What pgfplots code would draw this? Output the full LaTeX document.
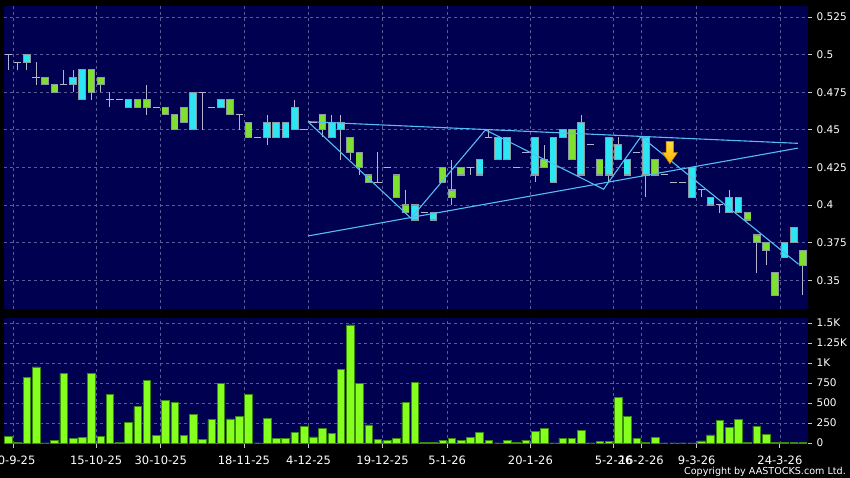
\documentclass[border=0pt]{standalone}
\usepackage{fontspec}
\setmainfont{DejaVu Sans}
\usepackage{pgfplots}
\pgfplotsset{compat=1.18}
\usepackage{pgfplotstable}

\definecolor{bgnavy}{HTML}{000050}
\definecolor{gridc}{HTML}{5A5A96}
\definecolor{cyanc}{HTML}{2CE6F4}
\definecolor{greenc}{HTML}{80E030}
\definecolor{boxb}{HTML}{8A9AA0}
\definecolor{wickc}{HTML}{B4B4C8}
\definecolor{volg}{HTML}{84FF1E}
\definecolor{volb}{HTML}{3A8A10}
\definecolor{trend}{HTML}{55BDF5}
\definecolor{tickc}{HTML}{C8C8C8}
\definecolor{arrowt}{HTML}{FFE040}
\definecolor{arrowf}{HTML}{FFB000}
\definecolor{arrowd}{HTML}{D08800}

\pgfplotstableread{
x lo hi
2 0.495 0.500
7 0.480 0.485
8 0.470 0.490
13 0.465 0.470
20 0.450 0.475
23 0.465 0.470
28 0.445 0.455
29 0.445 0.455
30 0.445 0.455
31 0.450 0.465
35 0.445 0.455
36 0.450 0.455
44 0.390 0.400
46 0.390 0.395
51 0.420 0.430
53 0.430 0.445
54 0.430 0.445
57 0.420 0.445
59 0.415 0.445
60 0.445 0.450
62 0.420 0.455
65 0.420 0.445
66 0.430 0.440
67 0.420 0.430
69 0.420 0.445
74 0.405 0.425
76 0.400 0.405
78 0.395 0.405
79 0.395 0.405
84 0.365 0.375
85 0.375 0.385
}\cyantab

\pgfplotstableread{
x lo hi
4 0.480 0.485
5 0.475 0.480
9 0.475 0.490
10 0.480 0.485
14 0.465 0.470
15 0.465 0.470
17 0.460 0.465
18 0.450 0.460
19 0.455 0.465
24 0.460 0.470
26 0.445 0.455
34 0.450 0.460
37 0.435 0.445
38 0.425 0.435
39 0.415 0.420
42 0.405 0.420
43 0.395 0.400
47 0.415 0.425
48 0.405 0.410
49 0.420 0.425
58 0.425 0.430
61 0.430 0.450
64 0.420 0.430
70 0.420 0.430
80 0.390 0.395
81 0.375 0.380
82 0.370 0.375
83 0.340 0.355
86 0.360 0.370
}\greentab

\pgfplotstableread{
x p
0 0.500
1 0.495
3 0.485
6 0.480
11 0.470
12 0.470
16 0.465
21 0.475
22 0.465
25 0.460
27 0.445
32 0.450
33 0.455
40 0.415
41 0.425
45 0.395
50 0.425
52 0.445
55 0.425
56 0.435
63 0.440
68 0.435
71 0.420
72 0.415
73 0.415
75 0.410
77 0.400
}\dojitab

\pgfplotstableread{
x L H
0 0.490 0.500
1 0.490 0.495
2 0.490 0.500
3 0.480 0.495
6 0.480 0.490
7 0.475 0.490
9 0.470 0.490
10 0.475 0.485
11 0.465 0.475
15 0.460 0.480
21 0.450 0.475
25 0.450 0.460
28 0.440 0.460
31 0.450 0.470
34 0.445 0.460
35 0.445 0.460
36 0.430 0.460
37 0.430 0.445
38 0.420 0.435
40 0.415 0.435
43 0.395 0.410
48 0.400 0.430
50 0.420 0.425
52 0.445 0.450
57 0.415 0.445
58 0.425 0.440
62 0.420 0.460
65 0.415 0.445
66 0.430 0.445
69 0.405 0.445
75 0.405 0.410
77 0.395 0.400
78 0.395 0.410
81 0.355 0.380
82 0.360 0.375
86 0.340 0.370
}\wicktab

\pgfplotstableread{
x v
0 80
1 12
2 821
3 950
4 0
5 29
6 871
7 58
8 67
9 871
10 79
11 608
12 8
13 262
14 454
15 783
16 92
17 529
18 512
19 96
20 354
21 42
22 296
23 746
24 300
25 337
26 608
27 0
28 304
29 54
30 54
31 129
32 208
33 75
34 187
35 117
36 921
37 1475
38 746
39 225
40 46
41 37
42 58
43 508
44 762
45 5
46 12
47 37
48 58
49 33
50 71
51 129
52 29
53 0
54 37
55 8
56 37
57 142
58 179
59 0
60 62
61 62
62 162
63 0
64 21
65 21
66 571
67 337
68 62
69 12
70 71
71 0
72 0
73 0
74 0
75 25
76 100
77 283
78 196
79 296
80 5
81 212
82 104
83 4
84 4
85 4
86 4
}\voltab

\pgfplotsset{
  commonax/.style={
    scale only axis, anchor=south west, width=803.9pt,
    xmin=-0.5, xmax=86.5,
    axis background/.style={fill=bgnavy},
    axis line style={draw=none},
    xtick={0.5,9.5,16.5,25.5,32.5,40.5,47.5,56.5,65.5,68.5,74.5,83.5},
    ytick pos=right, tick align=outside, major tick length=4pt,
    ytick style={draw=tickc, line width=0.8pt},
    yticklabel style={font=\fontsize{10.5}{12}\selectfont, text=white, xshift=1.5pt},
    grid=major,
    major grid style={draw=gridc, dash pattern=on 3pt off 3pt, line width=0.7pt},
  },
  bodystyle/.style={draw=none, mark=none, forget plot,
    error bars/y dir=plus, error bars/y explicit, error bars/error mark=none,
    error bars/error bar style={#1}},
}

\begin{document}
\begin{tikzpicture}
\fill[black] (0pt,0pt) rectangle (850pt,478pt);
\path[use as bounding box] (0pt,0pt) rectangle (850pt,478pt);

\begin{axis}[commonax, at={(3.7pt,169pt)}, height=303pt,
  ymin=0.33085, ymax=0.53231,
  xticklabels={}, xtick style={draw=none},
  ytick={0.35,0.375,0.4,0.425,0.45,0.475,0.5,0.525},
  yticklabels={0.35,0.375,0.4,0.425,0.45,0.475,0.5,0.525},
]
% wicks
\addplot[bodystyle={draw=wickc, line width=1pt}]
  table[x=x, y=L, y error plus expr=\thisrow{H}-\thisrow{L}] {\wicktab};
% doji
\addplot[only marks, mark=-, mark size=3.6pt, mark options={draw=wickc, line width=1pt}, forget plot]
  table[x=x, y=p] {\dojitab};
% cyan bodies
\addplot[bodystyle={draw=boxb, line width=7.6pt}]
  table[x=x, y expr=\thisrow{lo}-0.0004, y error plus expr=\thisrow{hi}-\thisrow{lo}+0.0008] {\cyantab};
\addplot[bodystyle={draw=cyanc, line width=6pt}]
  table[x=x, y expr=\thisrow{lo}+0.0004, y error plus expr=\thisrow{hi}-\thisrow{lo}-0.0008] {\cyantab};
% green bodies
\addplot[bodystyle={draw=boxb, line width=7.6pt}]
  table[x=x, y expr=\thisrow{lo}-0.0004, y error plus expr=\thisrow{hi}-\thisrow{lo}+0.0008] {\greentab};
\addplot[bodystyle={draw=greenc, line width=6pt}]
  table[x=x, y expr=\thisrow{lo}+0.0004, y error plus expr=\thisrow{hi}-\thisrow{lo}-0.0008] {\greentab};
% trend lines
\addplot[trend, line width=1.1pt, mark=none] coordinates {(32.43,0.4554) (85.44,0.4410)};
\addplot[trend, line width=1.1pt, mark=none] coordinates {(32.43,0.3794) (85.44,0.4378)};
\addplot[trend, line width=1.1pt, mark=none] coordinates {(32.43,0.4554) (43.58,0.3912) (51.64,0.4499) (64.42,0.4105) (68.47,0.4455) (85.52,0.3606)};
% arrow
\addplot[top color=arrowt, bottom color=arrowf, draw=arrowd, line width=0.6pt] coordinates {(71.2,0.4423) (72.0,0.4423) (72.0,0.4348) (72.4,0.4348) (71.6,0.4275) (70.8,0.4348) (71.2,0.4348)} --cycle;
\end{axis}

\begin{axis}[commonax, at={(3.7pt,34pt)}, height=126pt,
  ymin=-12.5, ymax=1562.5,
  xtick pos=bottom,
  xtick style={draw=tickc, line width=0.8pt},
  xticklabels={30-9-25,15-10-25,30-10-25,18-11-25,4-12-25,19-12-25,5-1-26,20-1-26,5-2-26,16-2-26,9-3-26,24-3-26},
  xticklabel style={font=\fontsize{11.5}{13}\selectfont, text=white, yshift=-4.5pt},
  ytick={0,250,500,750,1000,1250,1500},
  yticklabels={0,250,500,750,1K,1.25K,1.5K},
]
\addplot[ybar, bar width=7.6pt, bar shift=0pt, fill=volg, draw=volb, line width=0.6pt]
  table[x=x, y=v] {\voltab};
\end{axis}

\node[anchor=base east, text=white, inner sep=0pt, font=\fontsize{9.6}{11}\selectfont] at (846pt,3pt) {Copyright by AASTOCKS.com Ltd.};
\end{tikzpicture}
\end{document}
